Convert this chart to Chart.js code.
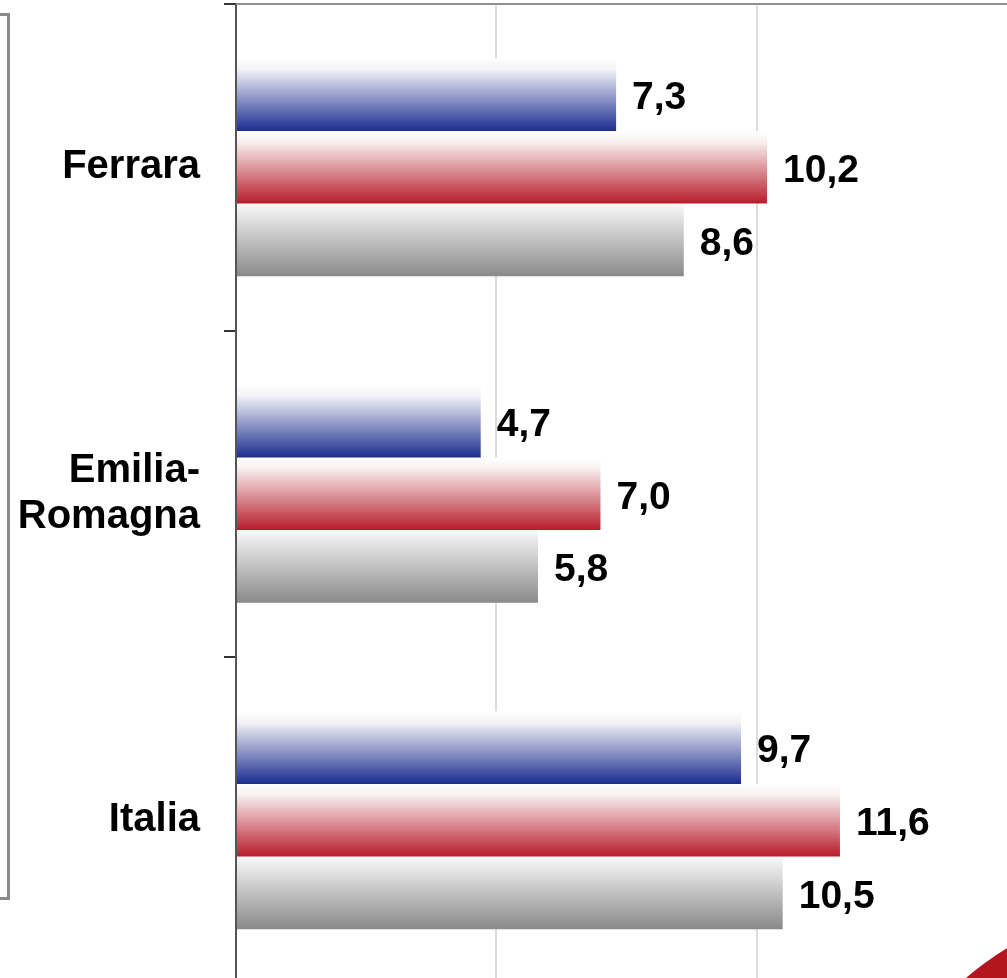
<!DOCTYPE html>
<html>
<head>
<meta charset="utf-8">
<script src="https://cdn.jsdelivr.net/npm/chart.js@4/dist/chart.umd.min.js"></script>
<style>
  html, body { margin: 0; padding: 0; background: #fff; overflow: hidden; width: 1007px; height: 978px; position: relative; }
  #wrap { position: absolute; left: 0; top: 0; width: 1030px; height: 1000px; }
  .frame { position: absolute; left: -20px; top: 13px; width: 30px; height: 887px; border: 3px solid #8a8a8a; box-sizing: border-box; }
  .swoosh { position: absolute; left: 862px; top: 904px; width: 604px; height: 604px; border-radius: 50%; background: #b3161f; }
</style>
</head>
<body>
<div class="frame"></div>
<div id="wrap"><canvas id="chart"></canvas></div>
<div class="swoosh"></div>
<script>
const categories = ['Ferrara', ['Emilia-', 'Romagna'], 'Italia'];
const serieBlu = [7.3, 4.7, 9.7];
const serieRossa = [10.2, 7.0, 11.6];
const serieGrigia = [8.6, 5.8, 10.5];
const xTicks = [0, 5, 10, 15];

const FONT = '"Liberation Sans", Arial, sans-serif';

// top -> bottom colour stops for each series
const GRADIENTS = [
    [[0, '#ffffff'], [0.15, '#f3f3f7'], [1, '#1c2d8f']],
    [[0, '#ffffff'], [0.15, '#f8f0f0'], [1, '#b81b2b']],
    [[0, '#f9f9f9'], [1, '#898989']]
];

function fmt(v) {
    return v.toFixed(1).replace('.', ',');
}

const barGradients = {
    id: 'barGradients',
    beforeDatasetsDraw(chart) {
        const ctx = chart.ctx;
        chart.data.datasets.forEach((ds, i) => {
            chart.getDatasetMeta(i).data.forEach(el => {
                const { y, height } = el.getProps(['y', 'height'], true);
                const g = ctx.createLinearGradient(0, y - height / 2, 0, y + height / 2);
                GRADIENTS[i].forEach(([stop, col]) => g.addColorStop(stop, col));
                el.options = Object.assign({}, el.options, { backgroundColor: g });
            });
        });
        // top edge of the plot area
        const a = chart.chartArea;
        ctx.save();
        ctx.strokeStyle = '#8f8f8f';
        ctx.lineWidth = 2;
        ctx.beginPath();
        ctx.moveTo(a.left, a.top);
        ctx.lineTo(a.right, a.top);
        ctx.stroke();
        ctx.restore();
    }
};

const valueLabels = {
    id: 'valueLabels',
    afterDatasetsDraw(chart) {
        const ctx = chart.ctx;
        ctx.save();
        ctx.font = 'bold 39px ' + FONT;
        ctx.fillStyle = '#000';
        ctx.textAlign = 'left';
        ctx.textBaseline = 'middle';
        chart.data.datasets.forEach((ds, i) => {
            chart.getDatasetMeta(i).data.forEach((el, j) => {
                ctx.fillText(fmt(ds.data[j]), el.x + 16, el.y + 4);
            });
        });
        ctx.restore();
    }
};

new Chart(document.getElementById('chart'), {
    type: 'bar',
    data: {
        labels: categories,
        datasets: [
            { label: 'Serie blu', data: serieBlu },
            { label: 'Serie rossa', data: serieRossa },
            { label: 'Serie grigia', data: serieGrigia }
        ]
    },
    options: {
        indexAxis: 'y',
        responsive: true,
        maintainAspectRatio: false,
        animation: false,
        layout: { padding: { top: 4, right: 13, bottom: 16.5, left: 0 } },
        datasets: {
            bar: { barPercentage: 1, categoryPercentage: 0.668, borderWidth: 0 }
        },
        plugins: { legend: { display: false }, tooltip: { enabled: false } },
        scales: {
            x: {
                min: xTicks[0],
                max: xTicks[xTicks.length - 1],
                afterBuildTicks: s => { s.ticks = xTicks.map(v => ({ value: v })); },
                afterFit: s => { s.height = 0; s.paddingLeft = 0; s.paddingRight = 0; },
                ticks: { display: false },
                border: { display: false },
                grid: {
                    drawTicks: false,
                    lineWidth: 2,
                    color: c => c.tick && c.tick.value === 0 ? 'rgba(0,0,0,0)' : '#dcdcdc'
                }
            },
            y: {
                afterFit: s => { s.width = 236; s.paddingTop = 0; s.paddingBottom = 0; },
                border: { color: '#555', width: 2 },
                grid: { drawOnChartArea: false, tickLength: 12, color: '#333', lineWidth: 2 },
                ticks: {
                    padding: 24,
                    color: '#000',
                    font: { family: FONT, size: 40, weight: 'bold', lineHeight: 1.15 }
                }
            }
        }
    },
    plugins: [barGradients, valueLabels]
});
</script>
</body>
</html>
